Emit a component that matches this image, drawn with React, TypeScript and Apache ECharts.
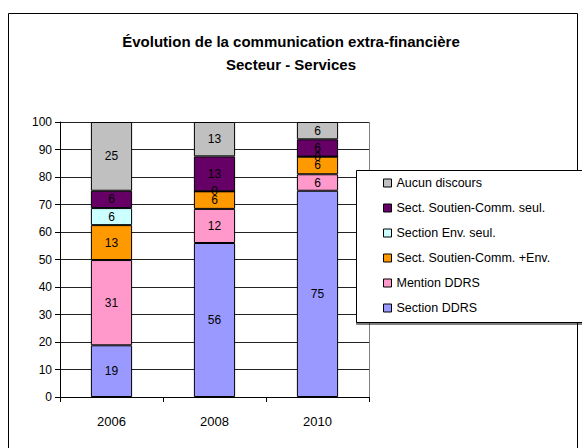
import React, { useEffect, useRef } from "react";
import * as echarts from "echarts";

const years = ["2006", "2008", "2010"];
const sectionDDRS = [18.8, 56, 75];
const mentionDDRS = [31, 12.4, 6];
const soutienEnv = [12.7, 6.4, 6.4];
const envSeul = [6.2, 0, 0];
const soutienSeul = [6.3, 12.7, 6.3];
const aucun = [25, 12.5, 6.3];

const seriesDefs = [
  { name: "Section DDRS", data: sectionDDRS, color: "#9999FF" },
  { name: "Mention DDRS", data: mentionDDRS, color: "#FF99CC" },
  { name: "Sect. Soutien-Comm. +Env.", data: soutienEnv, color: "#FF9900" },
  { name: "Section Env. seul.", data: envSeul, color: "#CCFFFF" },
  { name: "Sect. Soutien-Comm. seul.", data: soutienSeul, color: "#660066" },
  { name: "Aucun discours", data: aucun, color: "#C0C0C0" },
];

const FONT = "'Liberation Sans', Arial, sans-serif";

export default function App() {
  const ref = useRef<HTMLDivElement>(null);
  useEffect(() => {
    if (!ref.current) return;
    const chart = echarts.init(ref.current, undefined, { renderer: "svg" });
    chart.setOption({
      animation: false,
      backgroundColor: "#fff",
      title: {
        text: "Évolution de la communication extra-financière\nSecteur - Services",
        left: "center",
        top: 25,
        textStyle: { fontFamily: FONT, fontSize: 15, fontWeight: "bold", color: "#000", lineHeight: 23 },
      },
      graphic: [
        { type: "rect", shape: { x: 8.5, y: 13.5, width: 569, height: 460 }, style: { fill: "none", stroke: "#000", lineWidth: 1 }, z: 0 },
        { type: "line", shape: { x1: 369.5, y1: 122, x2: 369.5, y2: 397 }, style: { stroke: "#808080", lineWidth: 1 }, z: 5 },
        { type: "rect", shape: { x: 356.5, y: 170.5, width: 240, height: 152 }, style: { fill: "#fff", stroke: "#000", lineWidth: 1, shadowColor: "rgba(0,0,0,0.5)", shadowOffsetY: 2, shadowOffsetX: 0, shadowBlur: 0 }, z: 10 },
      ],
      legend: {
        data: seriesDefs.map((s) => s.name).reverse(),
        orient: "vertical",
        left: 383,
        top: 176,
        padding: 0,
        itemWidth: 8,
        itemHeight: 8,
        itemGap: 11,
        icon: "rect",
        z: 20,
        itemStyle: { borderColor: "#000", borderWidth: 1 },
        textStyle: { fontFamily: FONT, fontSize: 12.5, color: "#000", lineHeight: 14 },
      },
      grid: { left: 60, right: 213, top: 122, bottom: 51, containLabel: false },
      xAxis: {
        type: "category",
        data: years,
        axisLine: { lineStyle: { color: "#000" } },
        axisTick: { show: true, length: 5, alignWithLabel: false, lineStyle: { color: "#000" } },
        axisLabel: { fontFamily: FONT, fontSize: 13, color: "#000", margin: 18 },
      },
      yAxis: {
        type: "value",
        min: 0,
        max: 100,
        interval: 10,
        axisLine: { show: true, lineStyle: { color: "#000" } },
        axisTick: { show: true, length: 5, lineStyle: { color: "#000" } },
        axisLabel: { fontFamily: FONT, fontSize: 12, color: "#000", margin: 8 },
        splitLine: { lineStyle: { color: "#222", width: 1 } },
      },
      series: seriesDefs.map((s) => ({
        name: s.name,
        type: "bar",
        stack: "total",
        data: s.data,
        barWidth: "40%",
        itemStyle: { color: s.color, borderColor: "#000", borderWidth: 1 },
        label: {
          show: true,
          position: "inside",
          fontFamily: FONT,
          fontSize: 12,
          color: "#000",
          formatter: (p: any) => String(Math.round(p.value)),
        },
      })),
    });
    return () => chart.dispose();
  }, []);
  return <div ref={ref} style={{ width: 582, height: 448, position: "absolute", left: 0, top: 0 }} />;
}
